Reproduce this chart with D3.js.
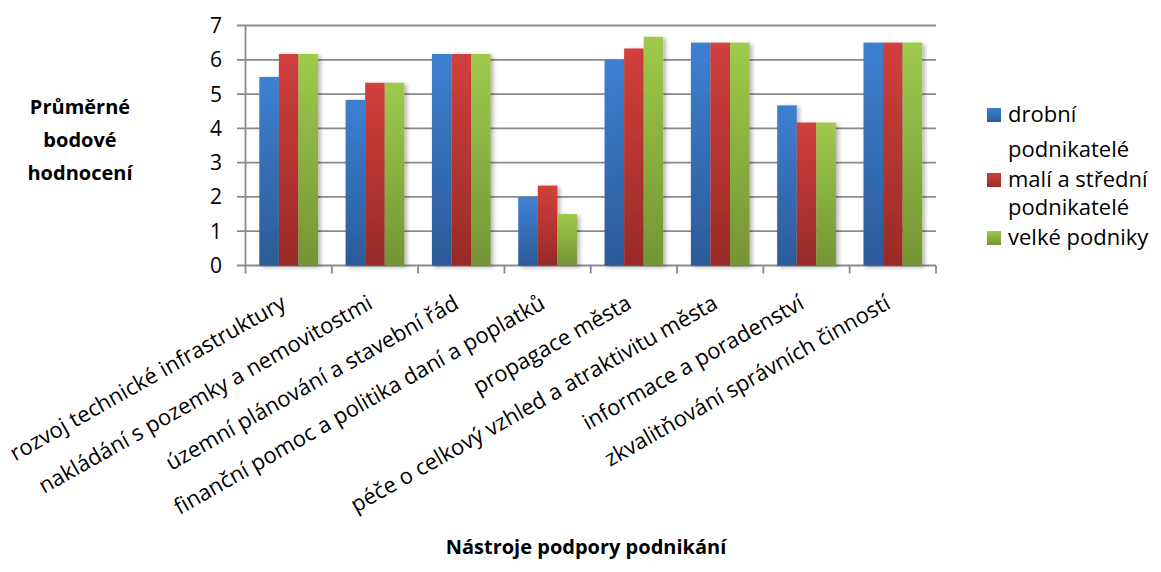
<!DOCTYPE html>
<html><head><meta charset="utf-8">
<script src="https://cdn.jsdelivr.net/npm/d3@7"></script>
<style>body{margin:0;background:#fff}svg{display:block}text{font-family:"Open Sans",sans-serif;fill:#000}</style>
</head><body><svg id="c" width="1161" height="572"></svg>
<script>
const categories = ["rozvoj technické infrastruktury","nakládání s pozemky a nemovitostmi","územní plánování a stavební řád","finanční pomoc a politika daní a poplatků","propagace města","péče o celkový vzhled a atraktivitu města","informace a poradenství","zkvalitňování správních činností"];
const seriesNames = ["drobní podnikatelé","malí a střední podnikatelé","velké podniky"];
const drobni = [5.5,4.83,6.17,2.0,6.0,6.5,4.67,6.5];
const maliStredni = [6.17,5.33,6.17,2.33,6.33,6.5,4.17,6.5];
const velke = [6.17,5.33,6.17,1.5,6.67,6.5,4.17,6.5];
const yTicks = [0,1,2,3,4,5,6,7];
const legendLines = [["drobní","podnikatelé"],["malí a střední","podnikatelé"],["velké podniky"]];

const svg = d3.select("#c");
const L=245.5, R=936, T=25.5, B=265.5;
const x = d3.scaleBand().domain(categories).range([L,R]).paddingInner(0.32).paddingOuter(0.16);
const xs = d3.scaleBand().domain(d3.range(3)).range([0,x.bandwidth()]);
const y = d3.scaleLinear().domain([0,7]).range([B,T]);
const series=[drobni,maliStredni,velke];
const cols=[["#3e80d2","#2c5b98"],["#d23f3c","#982b28"],["#9fca4b","#749434"]];
const defs=svg.append("defs");
cols.forEach((c,i)=>{const g=defs.append("linearGradient").attr("id","g"+i).attr("x1",0).attr("y1",0).attr("x2",0).attr("y2",1);
 g.append("stop").attr("offset","0%").attr("stop-color",c[0]);g.append("stop").attr("offset","100%").attr("stop-color",c[1]);});
const f=defs.append("filter").attr("id","sh").attr("x","-20%").attr("y","-10%").attr("width","160%").attr("height","130%");
f.append("feDropShadow").attr("dx",2.5).attr("dy",1.5).attr("stdDeviation",2).attr("flood-color","#000").attr("flood-opacity",0.3);

svg.append("g").selectAll("line").data(yTicks).join("line")
 .attr("x1",237).attr("x2",R).attr("y1",d=>y(d)).attr("y2",d=>y(d))
 .attr("stroke","#8a8a8a").attr("stroke-width",1.8);
svg.append("line").attr("x1",L).attr("x2",L).attr("y1",T).attr("y2",B).attr("stroke","#8a8a8a").attr("stroke-width",1.8);
const bounds = categories.map(c=>x(c)-x.step()*x.paddingInner()/2).concat([R]);
svg.append("g").selectAll("line").data(bounds).join("line")
 .attr("x1",d=>d).attr("x2",d=>d).attr("y1",B).attr("y2",B+8).attr("stroke","#8a8a8a").attr("stroke-width",1.8);
svg.append("g").selectAll("text").data(yTicks).join("text")
 .attr("x",222).attr("y",d=>y(d)+7.5).attr("text-anchor","end").style("font-size","21px").text(d=>d);

series.forEach((s,i)=>{
 svg.append("g").attr("filter","url(#sh)").selectAll("rect").data(s).join("rect")
  .attr("x",(d,j)=>x(categories[j])+xs(i)).attr("width",xs.bandwidth())
  .attr("y",d=>y(d)).attr("height",d=>y(0)-y(d)).attr("fill","url(#g"+i+")");
});

svg.append("g").selectAll("text").data(categories).join("text")
 .attr("text-anchor","end").style("font-size","22px")
 .attr("transform",d=>`translate(${x(d)+x.bandwidth()/2-1},${B+42}) rotate(-29.5)`)
 .text(d=>d);

const yt=svg.append("text").attr("text-anchor","middle").style("font-size","20px").style("font-weight","bold");
["Průměrné","bodové","hodnocení"].forEach((t,i)=>yt.append("tspan").attr("x",80).attr("y",114+i*33).text(t));
svg.append("text").attr("x",586).attr("y",554).attr("text-anchor","middle").style("font-size","20px").style("font-weight","bold").text("Nástroje podpory podnikání");

const legY=[[122,157],[187,215],[245]];
legendLines.forEach((lines,i)=>{
 svg.append("rect").attr("x",987).attr("y",legY[i][0]-14).attr("width",14).attr("height",14).attr("fill","url(#g"+i+")");
 lines.forEach((t,k)=>svg.append("text").attr("x",1008).attr("y",legY[i][k]).style("font-size","22px").text(t));
});
</script></body></html>
